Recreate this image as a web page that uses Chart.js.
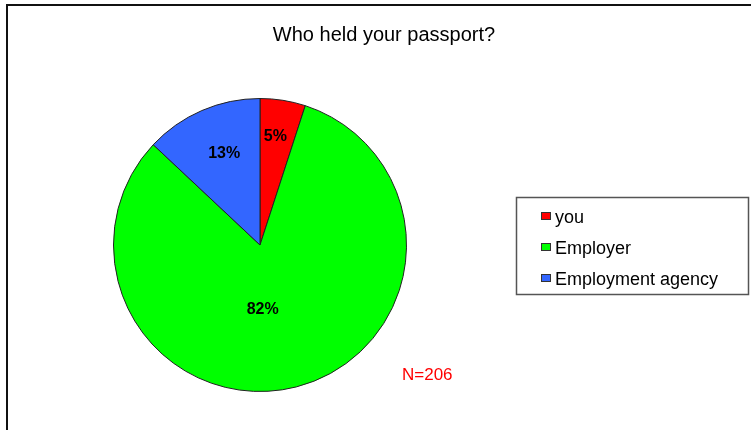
<!DOCTYPE html>
<html>
<head>
<meta charset="utf-8">
<script src="https://cdn.jsdelivr.net/npm/chart.js@4.4.1/dist/chart.umd.min.js"></script>
<style>
  html, body { margin: 0; padding: 0; background: #fff; }
  #wrap { position: relative; width: 751px; height: 430px; overflow: hidden; }
  #frame { position: absolute; left: 6px; top: 4px; width: 800px; height: 500px; border: 2px solid #111; }
  canvas { position: absolute; left: 0; top: 0; }
</style>
</head>
<body>
<div id="wrap">
  <div id="frame"></div>
  <canvas id="chart" width="751" height="430"></canvas>
</div>
<script>
// data
const titleText = 'Who held your passport?';
const categories = ['you', 'Employer', 'Employment agency'];
const shares = [5, 82, 13];
const sampleNote = 'N=206';

const sliceColors = ['#ff0000', '#00ff00', '#3366ff'];
const FONT = '"Liberation Sans", Arial, sans-serif';

// where each % label sits: fraction of radius, shift from mid angle (deg)
const labelPlace = [[0.75, -1], [0.44, 12], [0.67, 2]];

const extras = {
    id: 'extras',
    afterDraw(chart) {
        const ctx = chart.ctx;
        ctx.save();

        // title
        ctx.fillStyle = '#000';
        ctx.font = '20px ' + FONT;
        ctx.textAlign = 'center';
        ctx.textBaseline = 'middle';
        ctx.fillText(titleText, 384, 35);

        // percent labels inside slices
        const meta = chart.getDatasetMeta(0);
        const total = shares.reduce((a, b) => a + b, 0);
        ctx.font = 'bold 16px ' + FONT;
        meta.data.forEach((arc, i) => {
            const p = arc.getProps(['x', 'y', 'startAngle', 'endAngle', 'outerRadius'], true);
            const mid = (p.startAngle + p.endAngle) / 2 + labelPlace[i][1] * Math.PI / 180;
            const r = p.outerRadius * labelPlace[i][0];
            const pct = Math.round(shares[i] / total * 100) + '%';
            ctx.fillText(pct, p.x + Math.cos(mid) * r, p.y + Math.sin(mid) * r);
        });

        // legend box
        ctx.strokeStyle = '#555';
        ctx.lineWidth = 1.5;
        ctx.strokeRect(516.5, 197.5, 232, 97);
        ctx.textAlign = 'left';
        ctx.font = '18px ' + FONT;
        categories.forEach((c, i) => {
            const cy = 216 + i * 31;
            ctx.fillStyle = sliceColors[i];
            ctx.fillRect(541, cy - 4, 10, 8);
            ctx.strokeStyle = '#333';
            ctx.lineWidth = 1;
            ctx.strokeRect(541.5, cy - 3.5, 9, 7);
            ctx.fillStyle = '#000';
            ctx.fillText(c, 555, cy + 2);
        });

        // sample size note
        ctx.fillStyle = '#ff0000';
        ctx.font = '17px ' + FONT;
        ctx.fillText(sampleNote, 402, 375);

        ctx.restore();
    }
};

new Chart(document.getElementById('chart'), {
    type: 'pie',
    data: {
        labels: categories,
        datasets: [{
            data: shares,
            backgroundColor: sliceColors,
            borderColor: '#222',
            borderWidth: 1
        }]
    },
    options: {
        responsive: false,
        animation: false,
        layout: { padding: { left: 113, right: 344, top: 98, bottom: 38 } },
        plugins: {
            legend: { display: false },
            tooltip: { enabled: false }
        }
    },
    plugins: [extras]
});
</script>
</body>
</html>
